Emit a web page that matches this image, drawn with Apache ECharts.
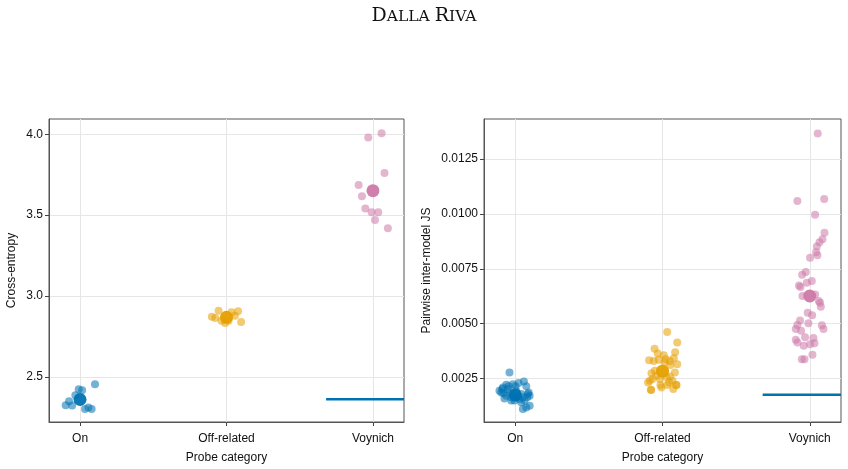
<!DOCTYPE html>
<html>
<head>
<meta charset="utf-8">
<script src="https://cdn.jsdelivr.net/npm/echarts@6/dist/echarts.min.js"></script>
<style>
  html, body { margin: 0; padding: 0; background: #fff; }
  #main { width: 848px; height: 469px; }
</style>
</head>
<body>
<div id="main"></div>
<script type="text/javascript">
// categories + tick labels
var categories = ['On', 'Off-related', 'Voynich'];
var ceTicks = [2.5, 3.0, 3.5, 4.0];
var jsTicks = [0.0025, 0.0050, 0.0075, 0.0100, 0.0125];

// left panel: cross-entropy, [jittered x, value]
var ceOn = [[-0.098, 2.325], [-0.075, 2.350], [-0.054, 2.323], [-0.032, 2.387], [-0.009, 2.424],
            [0.014, 2.418], [0.034, 2.301], [0.057, 2.311], [0.079, 2.301], [0.102, 2.455]];
var ceOff = [[0.900, 2.872], [0.923, 2.864], [0.946, 2.909], [0.966, 2.847], [0.991, 2.833],
             [1.014, 2.847], [1.034, 2.899], [1.057, 2.878], [1.079, 2.905], [1.100, 2.839]];
var ceVoy = [[1.968, 3.979], [2.059, 4.006], [2.079, 3.760], [1.902, 3.686], [1.925, 3.616],
             [1.948, 3.540], [1.991, 3.517], [2.036, 3.517], [2.014, 3.470], [2.102, 3.418]];
var ceMeans = [2.360, 2.868, 3.651];
var ceRef = 2.361;

// right panel: pairwise inter-model JS
var jsOn = [[-0.039, 0.00277], [0.059, 0.00236], [0.023, 0.00229], [0.075, 0.00214], [-0.061, 0.00221],
            [-0.084, 0.00209], [-0.045, 0.00214], [-0.016, 0.00224], [-0.095, 0.00186], [-0.107, 0.00194],
            [-0.079, 0.00183], [-0.073, 0.00159], [-0.061, 0.00171], [-0.039, 0.00186], [-0.027, 0.00164],
            [0.007, 0.00194], [0.018, 0.00171], [0.029, 0.00156], [0.041, 0.00179], [0.052, 0.00164],
            [0.086, 0.00179], [0.091, 0.00186], [0.082, 0.00164], [0.063, 0.00149], [-0.005, 0.00149],
            [-0.016, 0.00179], [-0.050, 0.00202], [0.098, 0.00126], [0.075, 0.00118], [0.052, 0.00111],
            [0.011, 0.00164], [0.041, 0.00141], [-0.088, 0.00202], [0.002, 0.00214], [-0.027, 0.00149],
            [0.098, 0.00171]];
var jsOff = [[1.032, 0.00462], [1.100, 0.00414], [0.946, 0.00386], [0.968, 0.00364], [1.009, 0.00356],
             [1.086, 0.00370], [0.909, 0.00333], [0.941, 0.00330], [0.975, 0.00335], [1.023, 0.00338],
             [1.050, 0.00330], [1.077, 0.00342], [1.100, 0.00315], [1.014, 0.00323], [1.054, 0.00311],
             [1.084, 0.00277], [0.925, 0.00274], [0.948, 0.00285], [0.959, 0.00262], [0.914, 0.00239],
             [0.902, 0.00232], [0.932, 0.00247], [0.982, 0.00247], [1.027, 0.00255], [1.050, 0.00259],
             [1.068, 0.00239], [0.986, 0.00220], [0.993, 0.00209], [1.032, 0.00220], [1.073, 0.00202],
             [1.093, 0.00220], [0.921, 0.00198], [1.045, 0.00232], [0.923, 0.00197], [1.095, 0.00220]];
var jsVoy = [[2.054, 0.01367], [1.916, 0.01059], [2.098, 0.01068], [2.036, 0.00997], [2.100, 0.00914],
             [2.086, 0.00885], [2.066, 0.00871], [2.048, 0.00852], [2.043, 0.00826], [2.052, 0.00812],
             [2.002, 0.00800], [1.973, 0.00735], [1.948, 0.00723], [2.014, 0.00694], [1.980, 0.00686],
             [1.927, 0.00674], [1.937, 0.00667], [2.036, 0.00633], [1.950, 0.00626], [2.061, 0.00603],
             [2.070, 0.00595], [2.075, 0.00577], [1.986, 0.00550], [2.016, 0.00538], [1.934, 0.00514],
             [1.991, 0.00502], [1.916, 0.00494], [1.905, 0.00475], [2.082, 0.00493], [2.093, 0.00475],
             [1.941, 0.00467], [1.968, 0.00438], [1.905, 0.00426], [1.916, 0.00414], [2.025, 0.00435],
             [2.032, 0.00411], [1.959, 0.00399], [2.002, 0.00406], [2.018, 0.00358], [1.946, 0.00338],
             [1.964, 0.00338]];
var jsMeans = [0.00175, 0.00283, 0.00626];
var jsRef = 0.001755;

var colors = ['#0072B2', '#E69F00', '#CC79A7'];
var font = 'Liberation Sans';

var myChart = echarts.init(document.getElementById('main'));

function xAxis(idx) {
  return {
    type: 'value', gridIndex: idx, min: -0.212, max: 2.212,
    name: 'Probe category', nameLocation: 'middle', nameGap: 30,
    nameTextStyle: {fontFamily: font, fontSize: 12, color: '#111'},
    axisLine: {onZero: false, lineStyle: {color: '#555', width: 1}},
    axisTick: {customValues: [0, 1, 2], length: 4, lineStyle: {color: '#444'}},
    axisLabel: {customValues: [0, 1, 2], margin: 11, fontFamily: font, fontSize: 12, color: '#111',
      formatter: function (v) { return categories[Math.round(v)]; }},
    splitLine: {show: true, lineStyle: {color: '#e6e6e6', width: 1}}
  };
}
function yAxis(idx, name, min, max, ticks, digits, gap) {
  return {
    type: 'value', gridIndex: idx, min: min, max: max,
    name: name, nameLocation: 'middle', nameGap: gap,
    nameTextStyle: {fontFamily: font, fontSize: 12, color: '#111'},
    axisLine: {show: true, onZero: false, lineStyle: {color: '#555', width: 1}},
    axisTick: {show: true, customValues: ticks, length: 4, lineStyle: {color: '#444'}},
    axisLabel: {customValues: ticks, margin: 6, fontFamily: font, fontSize: 12, color: '#111',
      formatter: function (v) { return v.toFixed(digits); }},
    splitLine: {show: true, lineStyle: {color: '#e6e6e6', width: 1}}
  };
}
function cloud(idx, data, c) {
  return {type: 'scatter', xAxisIndex: idx, yAxisIndex: idx, data: data, symbolSize: 8,
    itemStyle: {color: c, opacity: 0.55}, silent: true};
}
function means(idx, vals) {
  return {type: 'scatter', xAxisIndex: idx, yAxisIndex: idx, symbolSize: 13, silent: true, z: 5,
    data: vals.map(function (v, i) { return {value: [i, v], itemStyle: {color: colors[i]}}; }),
    itemStyle: {opacity: 0.95}};
}
function refLine(idx, v) {
  return {type: 'line', xAxisIndex: idx, yAxisIndex: idx, data: [[1.68, v], [2.212, v]],
    showSymbol: false, silent: true, z: 6, lineStyle: {color: '#0072B2', width: 2.5}};
}

var option = {
  backgroundColor: '#fff',
  animation: false,
  title: {
    text: '{a|D}{b|ALLA} {a|R}{b|IVA}',
    left: 'center', top: 2,
    textStyle: {
      fontWeight: 'normal',
      rich: {
        a: {fontFamily: 'DejaVu Serif', fontWeight: 'normal', fontSize: 19, color: '#111'},
        b: {fontFamily: 'DejaVu Serif', fontWeight: 'normal', fontSize: 15.5, color: '#111'}
      }
    }
  },
  grid: [
    {left: 49, top: 119, width: 355, height: 304, show: true, borderColor: '#555', borderWidth: 1},
    {left: 484, top: 119, width: 357, height: 304, show: true, borderColor: '#555', borderWidth: 1}
  ],
  xAxis: [xAxis(0), xAxis(1)],
  yAxis: [
    yAxis(0, 'Cross-entropy', 2.221, 4.094, ceTicks, 1, 31),
    yAxis(1, 'Pairwise inter-model JS', 0.000514, 0.014332, jsTicks, 4, 51)
  ],
  series: [
    cloud(0, ceOn, colors[0]), cloud(0, ceOff, colors[1]), cloud(0, ceVoy, colors[2]),
    means(0, ceMeans), refLine(0, ceRef),
    cloud(1, jsOn, colors[0]), cloud(1, jsOff, colors[1]), cloud(1, jsVoy, colors[2]),
    means(1, jsMeans), refLine(1, jsRef)
  ]
};

myChart.setOption(option);
</script>
</body>
</html>
